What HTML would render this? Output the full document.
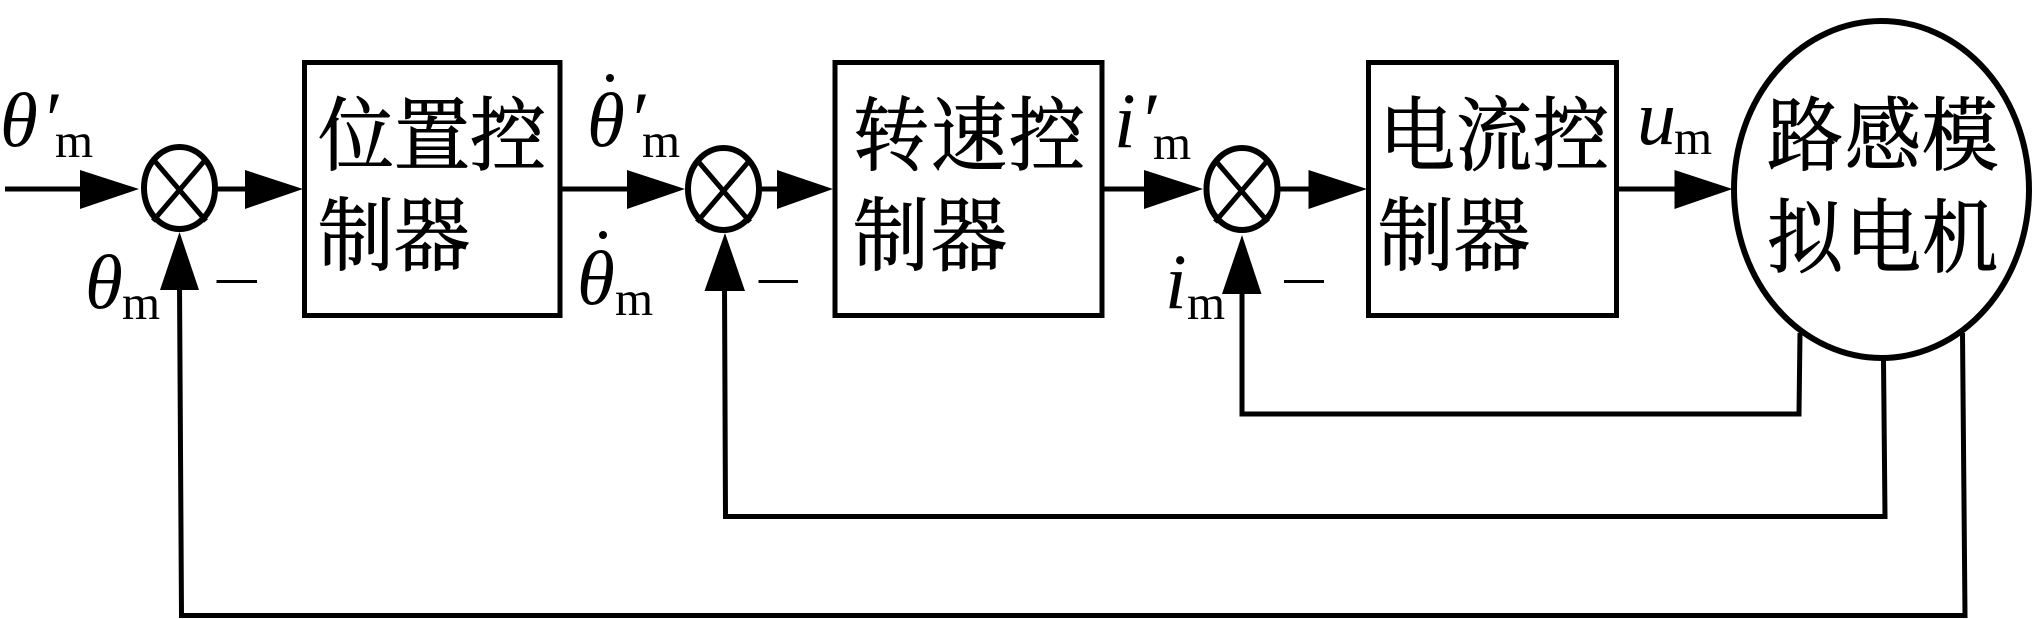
<!DOCTYPE html>
<html><head><meta charset="utf-8"><style>
html,body{margin:0;padding:0;background:#fff}
svg{display:block}
.c{font-family:"Noto Serif CJK SC","Liberation Serif",serif;font-size:76px;fill:#000;stroke:#000;stroke-width:1px}
.i{font-family:"Liberation Serif",serif;font-style:italic;font-size:78px;fill:#000}
.t{font-family:"Liberation Serif",serif;font-style:italic;font-size:77px;fill:#000}
.m{font-family:"Liberation Serif",serif;font-size:49px;fill:#000}
</style></head><body>
<svg width="2034" height="619" viewBox="0 0 2034 619" xmlns="http://www.w3.org/2000/svg">
<rect width="2034" height="619" fill="#fff"/>
<g fill="none" stroke="#000" stroke-width="5" stroke-linejoin="miter">
<rect x="304.5" y="62.5" width="255.5" height="253"/>
<rect x="835" y="62.5" width="267" height="253"/>
<rect x="1368.5" y="62.5" width="248" height="253"/>
<ellipse cx="1881.5" cy="189.5" rx="147.5" ry="168.5" stroke-width="6"/>
<ellipse cx="179.5" cy="188" rx="35.5" ry="41" stroke-width="6"/>
<ellipse cx="723.5" cy="189" rx="35.5" ry="41" stroke-width="6"/>
<ellipse cx="1242" cy="189" rx="35.5" ry="41" stroke-width="6"/>
<path d="M153 159L206 221M206 159L153 221"/>
<path d="M697 160L750 222M750 160L697 222"/>
<path d="M1215 160L1268 222M1268 160L1215 222"/>
<path d="M5 189H85M215 189H250M560 189H632M759 189H782M1102 189H1149M1277 189H1313M1616 189H1680"/>
<path d="M179.5 285L181.5 615.5H1965L1962.5 333"/>
<path d="M724.5 285L725.5 516.5H1885L1883.5 360"/>
<path d="M1242 290L1242 414H1799L1800 333"/>
</g>
<g fill="#000">
<path d="M80 170L139 189L80 209Z"/>
<path d="M245 170L303 189L245 209Z"/>
<path d="M627 170L685 189L627 209Z"/>
<path d="M777 170L833 189L777 209Z"/>
<path d="M1144 170L1203 189L1144 209Z"/>
<path d="M1308.5 170L1367 189L1308.5 209Z"/>
<path d="M1674.5 170L1732.5 189L1674.5 209Z"/>
<path d="M179.5 232L199 290H160Z"/>
<path d="M725 233L745 291H704.5Z"/>
<path d="M1242 235L1261.5 294H1222Z"/>
<rect x="216.5" y="280" width="40.5" height="3"/>
<rect x="758.5" y="280" width="39.5" height="3"/>
<rect x="1284" y="280" width="40" height="3"/>
<circle cx="610" cy="78" r="4"/>
<circle cx="603" cy="235" r="4"/>
</g>
<g class="c">
<text x="318 394 470" y="0" transform="translate(0,164) scale(1,1.06)">位置控</text>
<text x="318 394" y="0" transform="translate(0,264) scale(1,1.06)">制器</text>
<text x="853 931 1009" y="0" transform="translate(0,164) scale(1,1.06)">转速控</text>
<text x="853 931" y="0" transform="translate(0,264) scale(1,1.06)">制器</text>
<text x="1379 1456 1533" y="0" transform="translate(0,164) scale(1,1.06)">电流控</text>
<text x="1378 1454" y="0" transform="translate(0,264) scale(1,1.06)">制器</text>
<text x="1767 1845 1922" y="0" transform="translate(0,164) scale(1,1.06)">路感模</text>
<text x="1767 1845 1922" y="0" transform="translate(0,266) scale(1,1.06)">拟电机</text>
</g>
<text class="t" x="0" y="146">θ</text><text class="i" x="41" y="146">′</text><text class="m" x="55" y="157">m</text>
<text class="t" x="85" y="308">θ</text><text class="m" x="122" y="319">m</text>
<text class="t" x="587" y="146">θ</text><text class="i" x="628" y="146">′</text><text class="m" x="642" y="157">m</text>
<text class="t" x="577" y="304">θ</text><text class="m" x="615" y="315">m</text>
<text class="i" x="1114" y="147">i</text><text class="i" x="1139" y="147">′</text><text class="m" x="1153" y="159">m</text>
<text class="i" x="1165" y="308">i</text><text class="m" x="1187" y="319">m</text>
<text class="i" x="1637" y="144">u</text><text class="m" x="1674" y="154">m</text>
</svg>
</body></html>
